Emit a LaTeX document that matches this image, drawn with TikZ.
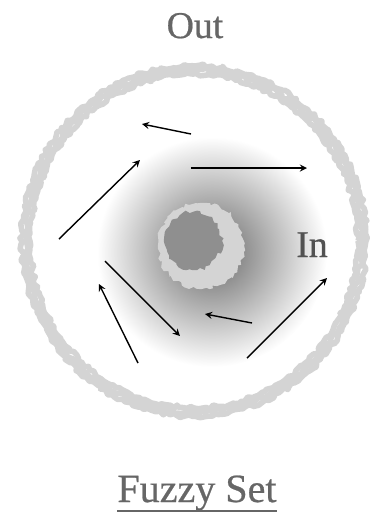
\documentclass[tikz,border=0pt]{standalone}
\usepackage{fontspec}
\newfontfamily\timesfont{Liberation Serif}[FakeBold=0.6]
\usetikzlibrary{arrows, positioning, calc, decorations.pathmorphing}

\begin{document}
\begin{tikzpicture}[
    x=0.02cm, y=0.02cm,
    word/.style={inner sep=0pt, anchor=base, font=\timesfont\fontsize{21.5}{24}\selectfont},
    fuzz/.style={draw=black!17, line width=3.2pt, line join=round,
        decorate, decoration={random steps, segment length=2pt, amplitude=1.2pt}},
    blot/.style={decorate, decoration={random steps, segment length=2pt, amplitude=1.2pt}},
    flow/.style={line width=0.8pt, ->, >=stealth}
]
    \useasboundingbox (0,0) rectangle (372,-512);

    % soft grey glow round the core
    \shade[inner color=black!60, outer color=white] (212,-252) circle (115);

    % outer boundary of the set
    \foreach \d in {-4,0,4}
        \draw[fuzz] (194,-241) ellipse [x radius=168+\d, y radius=171+\d];

    % core
    \fill[black!17, blot] (201,-246) circle (43);
    \fill[black!44, blot] (193,-241) circle (29);

    % arrow ends
    \coordinate (a1s) at (191,-134); \coordinate (a1e) at (142,-124);
    \coordinate (a2s) at (59,-239);  \coordinate (a2e) at (140,-160);
    \coordinate (a3s) at (191,-168); \coordinate (a3e) at (307,-168);
    \coordinate (a4s) at (105,-261); \coordinate (a4e) at (180,-336);
    \coordinate (a5s) at (138,-363); \coordinate (a5e) at (99,-284);
    \coordinate (a6s) at (252,-323); \coordinate (a6e) at (205,-314);
    \coordinate (a7s) at (247,-358); \coordinate (a7e) at (327,-278);

    \foreach \i in {1,...,7}
        \draw[flow] (a\i s) -- (a\i e);

    % labels
    \node[word, text=black!60] (out) at (195,-38) {Out};
    \node[word, text=black!68] (in) at (312,-257) {In};
    \node[word, text=black!60, font=\timesfont\fontsize{22.8}{25}\selectfont] (fuzzy) at (197,-502) {Fuzzy Set};
    \draw[black!60, line width=0.9pt] ([yshift=-5]fuzzy.base west) -- ([yshift=-5]fuzzy.base east);

\end{tikzpicture}
\end{document}
